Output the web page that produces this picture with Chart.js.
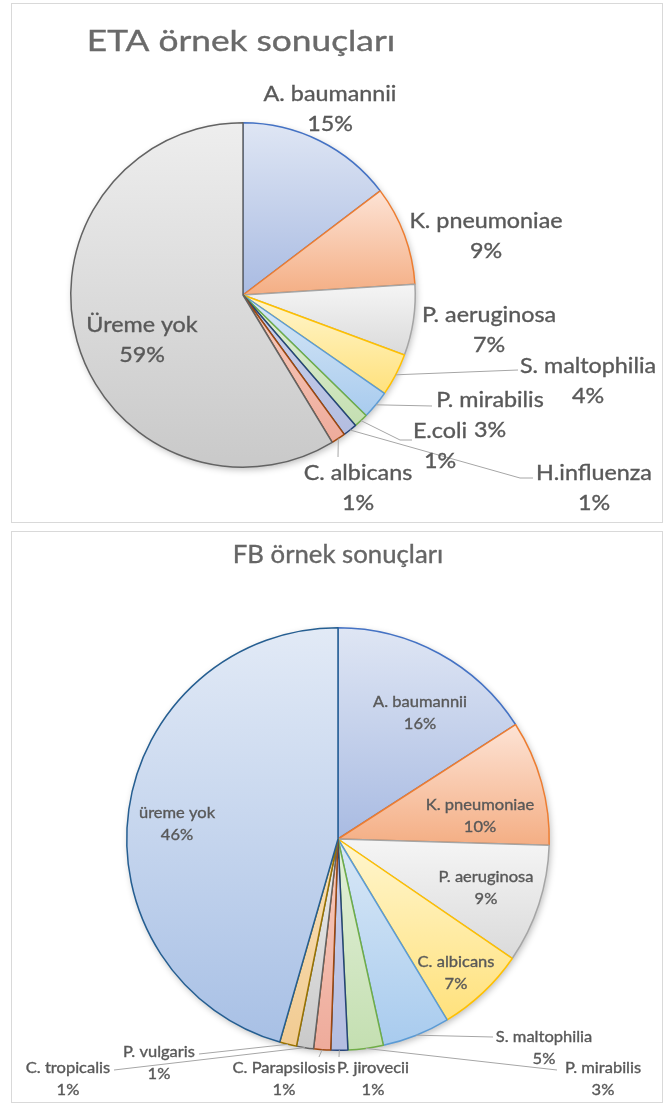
<!DOCTYPE html>
<html><head><meta charset="utf-8">
<script src="https://cdn.jsdelivr.net/npm/chart.js@4/dist/chart.umd.min.js"></script>
<style>
html,body{margin:0;padding:0;background:#fff;}
body{width:670px;height:1104px;position:relative;overflow:hidden;}
.panel{position:absolute;border:1.5px solid #d9d9d9;box-sizing:border-box;background:#fff;}
#p1{left:11px;top:3px;width:652px;height:520px;}
#p2{left:11px;top:531px;width:652px;height:572px;}
.wrap{position:absolute;left:0;width:670px;}
#w1{top:0;height:527px;}
#w2{top:527px;height:577px;}
canvas{display:block;}
</style></head><body>
<div class="panel" id="p1"></div><div class="panel" id="p2"></div>
<div class="wrap" id="w1"><canvas id="c1" width="670" height="527"></canvas></div>
<div class="wrap" id="w2"><canvas id="c2" width="670" height="577"></canvas></div>
<script>
// ---------- data ----------
const etaTitle = 'ETA örnek sonuçları';
const etaCategories = ['A. baumannii','K. pneumoniae','P. aeruginosa','S. maltophilia','P. mirabilis','E.coli','H.influenza','C. albicans','Üreme yok'];
const etaValues = [11, 7, 5, 3, 2, 1, 1, 1, 44];

const fbTitle = 'FB örnek sonuçları';
const fbCategories = ['A. baumannii','K. pneumoniae','P. aeruginosa','C. albicans','S. maltophilia','P. mirabilis','P. jirovecii','C. Parapsilosis','C. tropicalis','P. vulgaris','üreme yok'];
const fbValues = [15.9, 9.6, 9.1, 6.8, 5.2, 2.7, 1.3, 1.3, 1.3, 1.3, 45.6];

// ---------- styles ----------
const PAL = {
  blue:    {line:'#4472C4', light:'#dfe6f4', dark:'#a9bbe2'},
  orange:  {line:'#ED7D31', light:'#fde3d5', dark:'#f4ae84'},
  gray:    {line:'#A5A5A5', light:'#f5f5f5', dark:'#dadada'},
  gold:    {line:'#FFC000', light:'#fff6cf', dark:'#ffe17c'},
  lblue:   {line:'#5B9BD5', light:'#d9e8f6', dark:'#a8cbee'},
  green:   {line:'#70AD47', light:'#e3f0da', dark:'#c4dfb1'},
  dblue:   {line:'#264478', light:'#ccd3ec', dark:'#b3bde0'},
  brown:   {line:'#9E480E', light:'#f8cdbf', dark:'#eeab9b'},
  dgray:   {line:'#636363', light:'#eeeeee', dark:'#c9c9c9'},
  dgold:   {line:'#997300', light:'#f9e0b8', dark:'#f1cb92'},
  dlblue:  {line:'#255E91', light:'#e2eaf6', dark:'#a8c0e5'}
};
const etaColors = ['blue','orange','gray','gold','lblue','green','dblue','brown','dgray'];
const fbColors  = ['blue','orange','gray','gold','lblue','green','dblue','brown','dgray','dgold','dlblue'];

// label layout: [x center, first baseline] in canvas px; leaders: list of points ending at label
const etaLayout = {
  pad:{left:70, right:254, top:122, bottom:59},
  title:{x:241, y:51, size:28, sx:1.26, color:'#6a6a6a'},
  font:{size:21, sx:1.11, gap:30},
  pos:[[330,101],[486,228],[489,322],[588,373],[490,407],[440,438],[594,480],[358,480],[142,332]],
  leaders:[null,null,null,[[518,370]],[[432,406]],[[400,440],[412,440]],[[520,478],[533,478]],[[338,457]],null]
};
const fbLayout = {
  pad:{left:126, right:120, top:100, bottom:53},
  title:{x:338, y:36, size:24.5, sx:1.05, color:'#666666'},
  font:{size:15, sx:1.1, gap:22},
  pos:[[420,180],[480,283],[486,355],[456,440],[544,515],[603,546],[373,546],[284,546],[68,546],[159,530],[177,291]],
  leaders:[null,null,null,null,[[493,510]],[[557,543]],[[339,530]],[[319,530]],[[114,543]],[[199,527]],null]
};

function pieGeom(chart){
  const ca = chart.chartArea;
  return {cx:(ca.left+ca.right)/2, cy:(ca.top+ca.bottom)/2, r:Math.min(ca.right-ca.left, ca.bottom-ca.top)/2};
}
function sliceAngles(values, i){
  const total = values.reduce((a,b)=>a+b,0);
  let cum = 0; for(let k=0;k<i;k++) cum += values[k];
  const a0 = -Math.PI/2 + 2*Math.PI*cum/total;
  const a1 = a0 + 2*Math.PI*values[i]/total;
  return [a0,a1];
}
function makeFill(values, colors){
  return function(ctx){
    const chart = ctx.chart;
    const i = ctx.dataIndex;
    const p = PAL[colors[i]] || PAL.blue;
    if (i === undefined || !chart.chartArea) return p.dark;
    const g = pieGeom(chart);
    const [a0,a1] = sliceAngles(values, i);
    let minY = g.cy, maxY = g.cy;
    for (let s=0;s<=80;s++){
      const a = a0 + (a1-a0)*s/80;
      const y = g.cy + g.r*Math.sin(a);
      if (y<minY) minY=y; if (y>maxY) maxY=y;
    }
    if (maxY-minY < 1) maxY = minY+1;
    const grad = chart.ctx.createLinearGradient(0,minY,0,maxY);
    grad.addColorStop(0,p.light);
    grad.addColorStop(1,p.dark);
    return grad;
  };
}
function drawStretched(ctx, str, x, y, size, sx, color){
  ctx.save();
  ctx.translate(x,y);
  ctx.scale(sx,1);
  ctx.font = size+'px Lato';
  ctx.textAlign='center';
  ctx.textBaseline='alphabetic';
  ctx.fillStyle=color;
  ctx.fillText(str,0,0);
  ctx.strokeStyle=color;
  ctx.lineWidth=0.35;
  ctx.strokeText(str,0,0);
  ctx.restore();
}
function makePlugin(title, cats, values, layout){
  return {
    id:'excelLabels',
    beforeDatasetsDraw(chart){
      const ctx = chart.ctx, g = pieGeom(chart);
      ctx.save();
      ctx.beginPath(); ctx.arc(g.cx, g.cy, g.r-1, 0, Math.PI*2);
      ctx.shadowColor='rgba(0,0,0,0.28)'; ctx.shadowBlur=7; ctx.shadowOffsetX=1.5; ctx.shadowOffsetY=2.5;
      ctx.fillStyle='#ffffff'; ctx.fill();
      ctx.restore();
    },
    afterDraw(chart){
      const ctx = chart.ctx;
      const meta = chart.getDatasetMeta(0);
      const total = values.reduce((a,b)=>a+b,0);
      drawStretched(ctx, title, layout.title.x, layout.title.y, layout.title.size, layout.title.sx, layout.title.color);
      ctx.save();
      ctx.strokeStyle='#a6a6a6'; ctx.lineWidth=1;
      meta.data.forEach((arc,i)=>{
        const pts = layout.leaders[i];
        if(!pts) return;
        const p = arc.getProps(['x','y','startAngle','endAngle','outerRadius'], true);
        const mid = (p.startAngle+p.endAngle)/2;
        ctx.beginPath();
        ctx.moveTo(p.x + p.outerRadius*Math.cos(mid), p.y + p.outerRadius*Math.sin(mid));
        pts.forEach(q=>ctx.lineTo(q[0],q[1]));
        ctx.stroke();
      });
      ctx.restore();
      cats.forEach((c,i)=>{
        const [x,y] = layout.pos[i];
        const pct = Math.round(values[i]/total*100)+'%';
        drawStretched(ctx, c, x, y, layout.font.size, layout.font.sx, '#595959');
        drawStretched(ctx, pct, x, y+layout.font.gap, layout.font.size, layout.font.sx, '#595959');
      });
    }
  };
}
function buildChart(id, title, cats, values, colors, layout){
  return new Chart(document.getElementById(id), {
    type:'pie',
    data:{
      labels:cats,
      datasets:[{
        data:values,
        backgroundColor:makeFill(values, colors),
        borderColor:colors.map(c=>PAL[c].line),
        borderWidth:1.5,
        hoverOffset:0,
        offset:0
      }]
    },
    options:{
      responsive:false,
      animation:false,
      devicePixelRatio:1,
      layout:{padding:layout.pad},
      events:[],
      plugins:{legend:{display:false}, title:{display:false}, tooltip:{enabled:false}}
    },
    plugins:[makePlugin(title, cats, values, layout)]
  });
}
buildChart('c1', etaTitle, etaCategories, etaValues, etaColors, etaLayout);
buildChart('c2', fbTitle, fbCategories, fbValues, fbColors, fbLayout);
</script>
</body></html>
